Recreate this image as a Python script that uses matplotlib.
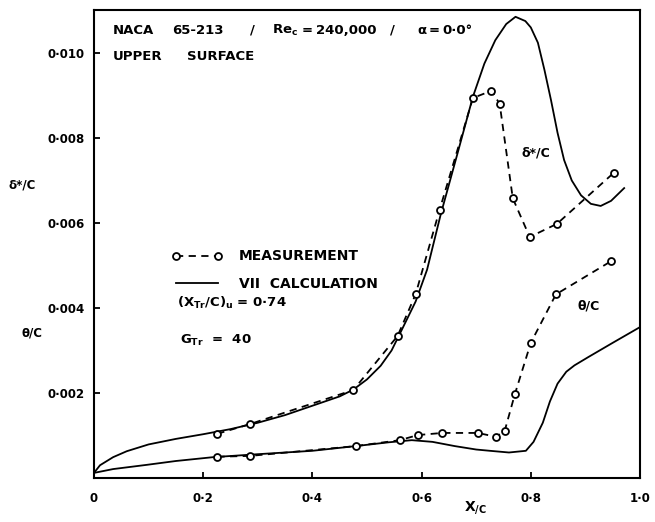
import matplotlib
matplotlib.use("Agg")
import matplotlib.pyplot as plt
from matplotlib.lines import Line2D

plt.rcParams["font.family"] = ["DejaVu Sans"]
plt.rcParams["font.weight"] = "bold"
plt.rcParams["mathtext.default"] = "regular"

# Displacement thickness, measured (x/c, delta*/c)
dstar_meas_x = [0.226, 0.286, 0.475, 0.556, 0.589, 0.633, 0.694, 0.728, 0.743, 0.767, 0.798, 0.848, 0.952]
dstar_meas_y = [0.00104, 0.00127, 0.00207, 0.00334, 0.00432, 0.00631, 0.00894, 0.00911, 0.00880,
                0.00658, 0.00567, 0.00598, 0.00718]

# Displacement thickness, VII calculation
dstar_calc_x = [0.0, 0.011, 0.035, 0.060, 0.100, 0.150, 0.200, 0.250, 0.300, 0.350, 0.400, 0.450,
                0.475, 0.500, 0.525, 0.545, 0.565, 0.589, 0.610, 0.635, 0.665, 0.694, 0.715,
                0.735, 0.755, 0.772, 0.790, 0.800, 0.813, 0.825, 0.837, 0.849, 0.861, 0.875,
                0.892, 0.910, 0.928, 0.947, 0.971]
dstar_calc_y = [0.00012, 0.00030, 0.00049, 0.00063, 0.00079, 0.00092, 0.00103, 0.00115, 0.00130,
                0.00148, 0.00170, 0.00192, 0.00208, 0.00232, 0.00264, 0.00300, 0.00352, 0.00415,
                0.00490, 0.00620, 0.00760, 0.00897, 0.00975, 0.01030, 0.01068, 0.01085, 0.01075,
                0.01060, 0.01024, 0.00960, 0.00889, 0.00812, 0.00748, 0.00700, 0.00665, 0.00645,
                0.00640, 0.00652, 0.00682]

# Momentum thickness, measured (x/c, theta/c)
theta_meas_x = [0.226, 0.286, 0.479, 0.560, 0.593, 0.638, 0.703, 0.736, 0.752, 0.771, 0.800, 0.846, 0.947]
theta_meas_y = [0.00050, 0.00052, 0.00075, 0.00089, 0.00101, 0.00106, 0.00106, 0.00097, 0.00110,
                0.00198, 0.00318, 0.00432, 0.00510]

# Momentum thickness, VII calculation
theta_calc_x = [0.0, 0.035, 0.097, 0.150, 0.218, 0.300, 0.400, 0.479, 0.540, 0.582, 0.620, 0.661,
                0.700, 0.725, 0.760, 0.791, 0.805, 0.822, 0.835, 0.849, 0.865, 0.880, 0.906,
                0.950, 1.0]
theta_calc_y = [0.00012, 0.00021, 0.00031, 0.00040, 0.00049, 0.00056, 0.00064, 0.00075, 0.00084,
                0.00089, 0.00085, 0.00075, 0.00067, 0.00064, 0.00060, 0.00064, 0.00085, 0.00130,
                0.00180, 0.00222, 0.00250, 0.00265, 0.00285, 0.00318, 0.00355]

x_ticks = [0.0, 0.2, 0.4, 0.6, 0.8, 1.0]
x_tick_labels = ["0", "0·2", "0·4", "0·6", "0·8", "1·0"]
y_ticks = [0.002, 0.004, 0.006, 0.008, 0.010]
y_tick_labels = ["0·002", "0·004", "0·006", "0·008", "0·010"]

W, H = 655, 522
AX_L, AX_R, AX_T, AX_B = 94, 640, 10, 478
fig = plt.figure(figsize=(W / 100, H / 100), dpi=100)
ax = fig.add_axes([AX_L / W, (H - AX_B) / H, (AX_R - AX_L) / W, (AX_B - AX_T) / H])


def put(px, py, s, size=9.5, **kw):
    """Place a text fragment at a pixel location inside the axes box."""
    ax.text((px - AX_L) / (AX_R - AX_L), (AX_B - py) / (AX_B - AX_T), s,
            transform=ax.transAxes, fontsize=size, fontweight="bold", va="center", **kw)


lw = 1.3
meas_style = dict(color="black", lw=lw, ls=(0, (4, 3)), marker="o", ms=5,
                  mfc="white", mec="black", mew=1.3)

ax.plot(dstar_calc_x, dstar_calc_y, color="black", lw=lw)
ax.plot(theta_calc_x, theta_calc_y, color="black", lw=lw)
ax.plot(dstar_meas_x, dstar_meas_y, **meas_style)
ax.plot(theta_meas_x, theta_meas_y, **meas_style)

ax.set_xlim(0, 1.0)
ax.set_ylim(0, 0.01101)
ax.set_xticks(x_ticks)
ax.set_xticklabels(x_tick_labels, fontsize=8.5, fontweight="bold")
ax.set_yticks(y_ticks)
ax.set_yticklabels(y_tick_labels, fontsize=8.5, fontweight="bold")
ax.tick_params(axis="both", direction="in", length=4, width=1.3)
ax.tick_params(axis="x", pad=10)
ax.tick_params(axis="y", pad=7)
for s in ax.spines.values():
    s.set_linewidth(1.5)

# Header
put(113, 30, "NACA")
put(172, 30, "65-213")
put(250, 30, "/")
put(272, 30, "Re$_c$")
put(302, 30, "=")
put(316, 30, "240,000")
put(390, 30, "/")
put(417, 30, "α")
put(429, 30, "=")
put(442, 30, "0·0°")
put(113, 56, "UPPER")
put(187, 56, "SURFACE")

# Legend
handles = [Line2D([], [], **meas_style), Line2D([], [], color="black", lw=lw)]
labels = ["MEASUREMENT", "VII  CALCULATION"]
leg = ax.legend(handles, labels, loc="center left",
                bbox_to_anchor=((172 - AX_L) / (AX_R - AX_L), (AX_B - 270) / (AX_B - AX_T)),
                frameon=False, fontsize=10, handlelength=3.6, handletextpad=1.2,
                labelspacing=0.95, numpoints=2, borderaxespad=0, borderpad=0)
for t in leg.get_texts():
    t.set_fontweight("bold")

put(177, 303, "(X$_{Tr}$/C)$_u$ = 0·74")
put(180, 340, "G$_{Tr}$  =  40")

# Curve labels
ax.text(0.81, 0.00765, "δ*/C", fontsize=9, fontweight="bold", va="center", ha="center")
ax.text(0.905, 0.00405, "θ/C", fontsize=9, fontweight="bold", va="center", ha="center")

# Axis titles
fig.text(475 / W, 1 - 508 / H, "X$_{/C}$", fontsize=10, fontweight="bold",
         ha="center", va="center")
fig.text(22 / W, 1 - 185 / H, "δ*/C", fontsize=8.5, fontweight="bold", ha="center", va="center")
fig.text(32 / W, 1 - 333 / H, "θ/C", fontsize=8.5, fontweight="bold", ha="center", va="center")

fig.savefig("out.png", dpi=100)
